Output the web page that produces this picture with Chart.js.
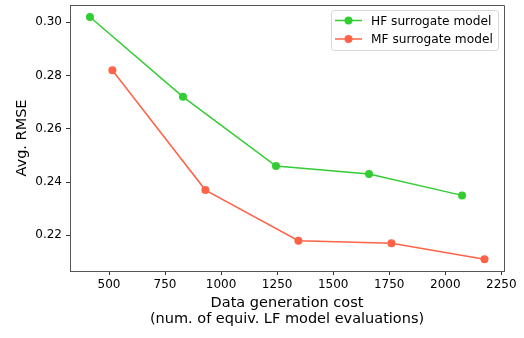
<!DOCTYPE html>
<html>
<head>
<meta charset="utf-8">
<script src="https://cdn.jsdelivr.net/npm/chart.js"></script>
<style>
  html, body { margin: 0; padding: 0; background: #fff; }
  #wrap { width: 524px; height: 338px; }
</style>
</head>
<body>
<div id="wrap"><canvas id="chart" width="524" height="338"></canvas></div>
<script>
// Cost vs. error for the two surrogate models
const hfCost = [415, 830, 1245, 1660, 2075];
const hfRmse = [0.302, 0.272, 0.246, 0.243, 0.235];
const mfCost = [515, 930, 1345, 1760, 2175];
const mfRmse = [0.282, 0.237, 0.218, 0.217, 0.211];

const xTicks = [500, 750, 1000, 1250, 1500, 1750, 2000, 2250];
const yTicks = [0.22, 0.24, 0.26, 0.28, 0.30];

const seriesNames = ['HF surrogate model', 'MF surrogate model'];
const GREEN = '#32cd32';
const RED = '#ff6347';
const FONT = '"DejaVu Sans", sans-serif';

function toPoints(xs, ys) {
    return xs.map((x, i) => ({ x: x, y: ys[i] }));
}

// Top and right spines plus the boxed legend, drawn like a matplotlib axes
const framePlugin = {
    id: 'frame',
    afterDraw(chart) {
        const ctx = chart.ctx;
        const a = chart.chartArea;
        ctx.save();
        ctx.strokeStyle = '#555';
        ctx.lineWidth = 1;
        ctx.beginPath();
        ctx.moveTo(a.left, a.top + 0.5);
        ctx.lineTo(a.right + 0.5, a.top + 0.5);
        ctx.lineTo(a.right + 0.5, a.bottom);
        ctx.stroke();

        // legend box
        const bx = 331, by = 10, bw = 167, bh = 40, r = 3;
        ctx.fillStyle = 'rgba(255,255,255,0.8)';
        ctx.strokeStyle = '#d6d6d6';
        ctx.beginPath();
        ctx.roundRect(bx + 0.5, by + 0.5, bw, bh, r);
        ctx.fill();
        ctx.stroke();

        const colors = [GREEN, RED];
        ctx.font = '12.2px ' + FONT;
        ctx.textBaseline = 'middle';
        seriesNames.forEach((name, i) => {
            const yy = 20.5 + i * 18.5;
            ctx.strokeStyle = colors[i];
            ctx.lineWidth = 1.5;
            ctx.beginPath();
            ctx.moveTo(335, yy);
            ctx.lineTo(362, yy);
            ctx.stroke();
            ctx.fillStyle = colors[i];
            ctx.beginPath();
            ctx.arc(348.5, yy, 4, 0, Math.PI * 2);
            ctx.fill();
            ctx.fillStyle = '#000';
            ctx.fillText(name, 371, yy + 1);
        });
        ctx.restore();
    }
};

new Chart(document.getElementById('chart'), {
    type: 'scatter',
    data: {
        datasets: [
            {
                label: seriesNames[0],
                data: toPoints(hfCost, hfRmse),
                showLine: true,
                borderColor: GREEN,
                backgroundColor: GREEN,
                borderWidth: 1.5,
                pointRadius: 4,
                pointHoverRadius: 4,
                pointBorderWidth: 0
            },
            {
                label: seriesNames[1],
                data: toPoints(mfCost, mfRmse),
                showLine: true,
                borderColor: RED,
                backgroundColor: RED,
                borderWidth: 1.5,
                pointRadius: 4,
                pointHoverRadius: 4,
                pointBorderWidth: 0
            }
        ]
    },
    options: {
        responsive: false,
        animation: false,
        layout: { padding: { top: 5, right: 20, left: 0, bottom: 0 } },
        plugins: {
            legend: { display: false },
            tooltip: { enabled: false }
        },
        scales: {
            x: {
                type: 'linear',
                min: 326,
                max: 2262,
                afterBuildTicks: (scale) => { scale.ticks = xTicks.map(v => ({ value: v })); },
                afterFit: (scale) => { scale.height = 67; },
                ticks: {
                    color: '#000',
                    font: { family: FONT, size: 12 },
                    padding: 3,
                    maxRotation: 0,
                    callback: (v) => String(v)
                },
                grid: {
                    drawOnChartArea: false,
                    drawTicks: true,
                    tickLength: 4,
                    tickColor: '#333'
                },
                border: { display: true, color: '#555', width: 1 },
                title: {
                    display: true,
                    text: ['Data generation cost', '(num. of equiv. LF model evaluations)'],
                    color: '#000',
                    font: { family: FONT, size: 14.5, lineHeight: 1.1 },
                    padding: { top: 2, bottom: 11 }
                }
            },
            y: {
                type: 'linear',
                min: 0.2066,
                max: 0.3065,
                afterBuildTicks: (scale) => { scale.ticks = yTicks.map(v => ({ value: v })); },
                afterFit: (scale) => {
                    scale.width = 70;
                    scale.paddingTop = 0;
                    scale.paddingBottom = 0;
                },
                ticks: {
                    color: '#000',
                    font: { family: FONT, size: 12 },
                    padding: 4,
                    callback: (v) => v.toFixed(2)
                },
                grid: {
                    drawOnChartArea: false,
                    drawTicks: true,
                    tickLength: 4,
                    tickColor: '#333'
                },
                border: { display: true, color: '#555', width: 1 },
                title: {
                    display: true,
                    text: 'Avg. RMSE',
                    color: '#000',
                    font: { family: FONT, size: 14.5 },
                    padding: { top: 14, bottom: 4 }
                }
            }
        }
    },
    plugins: [framePlugin]
});
</script>
</body>
</html>
